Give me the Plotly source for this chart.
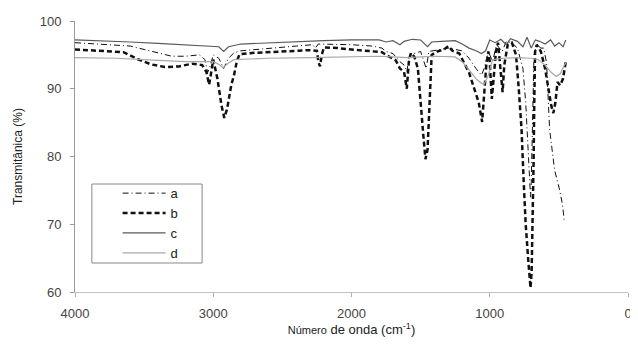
import plotly.graph_objects as go

# ---- data (wavenumber cm-1, transmittance %) ----
a_wn = [4000, 3800, 3600, 3500, 3400, 3300, 3200, 3100, 3060, 3040, 3020, 3000, 2960, 2925, 2890, 2850,
        2800, 2600, 2400, 2280, 2262, 2240, 2200, 2000, 1850, 1780, 1750, 1700, 1650, 1620, 1600, 1580,
        1500, 1460, 1440, 1300, 1200, 1150, 1100, 1060, 1040, 1010, 980, 950, 910, 880, 840, 800,
        760, 740, 720, 705, 700, 690, 680, 660, 630, 610, 589, 567, 531, 495, 475, 460]
a_val = [96.8, 96.6, 96.3, 95.8, 95.3, 94.8, 94.8, 95.0, 94.3, 92.4, 93.5, 95.0, 94.5, 93.0, 94.5, 95.3,
         95.6, 96.0, 96.3, 96.5, 96.0, 96.6, 96.6, 96.5, 96.3, 96.0, 95.5, 95.2, 94.0, 93.5, 92.5, 95.0,
         95.5, 93.0, 95.5, 96.0, 95.6, 94.5, 93.0, 92.0, 93.0, 95.5, 94.0, 96.5, 95.5, 97.0, 96.8, 96.0,
         93.0, 88.0, 80.0, 74.0, 76.0, 85.0, 95.0, 96.5, 96.0, 96.0, 93.8, 84.0, 78.0, 75.1, 73.0, 70.4]

b_wn = [4000, 3800, 3650, 3550, 3450, 3350, 3250, 3150, 3080, 3050, 3030, 3010, 3000, 2970, 2940, 2920,
        2900, 2870, 2850, 2830, 2810, 2700, 2500, 2300, 2250, 2240, 2228, 2215, 2200, 2100, 1950, 1850,
        1780, 1750, 1700, 1680, 1650, 1620, 1600, 1585, 1570, 1545, 1520, 1495, 1480, 1465, 1450, 1435,
        1420, 1380, 1330, 1300, 1270, 1220, 1180, 1150, 1120, 1080, 1055, 1040, 1025, 1010, 1000, 985,
        970, 955, 940, 920, 907, 895, 870, 840, 810, 790, 770, 755, 740, 720, 705, 697,
        690, 683, 678, 672, 660, 630, 600, 575, 555, 540, 525, 510, 490, 470, 450]
b_val = [95.8, 95.6, 95.4, 94.4, 93.6, 93.2, 93.3, 93.7, 93.5, 92.5, 90.6, 93.0, 94.3, 91.5, 87.5, 85.7,
         87.0, 90.5, 92.0, 94.0, 95.1, 95.3, 95.5, 95.7, 95.6, 94.0, 93.3, 95.0, 96.1, 96.0, 95.7, 95.5,
         95.4, 95.0, 94.5, 94.2, 93.0, 92.5, 90.0, 94.0, 95.3, 94.7, 93.0, 86.0, 83.0, 79.6, 81.0, 88.0,
         95.0, 95.5, 95.8, 96.3, 95.6, 95.2, 93.5, 92.4, 90.5, 88.0, 85.1, 89.0, 93.5, 95.5, 94.0, 88.5,
         92.0, 95.5, 96.8, 93.0, 89.5, 93.5, 96.5, 96.8, 95.0, 90.0, 84.0, 76.5, 70.0, 64.3, 60.6, 63.0,
         70.0, 79.0, 88.0, 95.5, 96.5, 95.5, 93.0, 90.0, 87.5, 86.4, 88.0, 91.0, 90.5, 91.5, 94.0]

c_wn = [4000, 3800, 3600, 3400, 3200, 3050, 2960, 2925, 2890, 2800, 2600, 2400, 2200, 2000, 1800, 1750,
        1700, 1650, 1620, 1560, 1500, 1450, 1420, 1350, 1250, 1200, 1150, 1100, 1060, 1030, 1000, 960,
        920, 880, 850, 800, 760, 730, 700, 670, 640, 600, 560, 530, 500, 470, 450]
c_val = [97.2, 97.1, 96.9, 96.7, 96.5, 96.4, 96.2, 95.5, 96.2, 96.6, 96.8, 97.0, 97.1, 97.2, 97.2, 96.9,
         97.1, 96.5, 97.0, 97.3, 97.2, 96.2, 96.9, 97.0, 97.1, 96.6, 96.0, 95.6, 95.2, 95.6, 97.2, 96.8,
         97.3, 96.5, 97.4, 97.0, 96.2, 97.6, 96.0, 97.2, 97.0, 96.6, 97.2, 96.3, 96.8, 96.2, 97.2]

d_wn = [4000, 3700, 3400, 3200, 3000, 2960, 2930, 2890, 2850, 2600, 2300, 2000, 1800, 1700, 1600, 1500,
        1400, 1250, 1200, 1150, 1100, 1060, 1040, 1010, 980, 900, 800, 700, 650, 600, 560, 520,
        490, 460, 450]
d_val = [94.6, 94.5, 94.2, 94.0, 94.0, 93.6, 93.1, 93.8, 94.3, 94.5, 94.6, 94.7, 94.8, 94.7, 94.6, 94.7,
         94.8, 94.7, 94.0, 92.8, 91.5, 90.8, 90.7, 92.0, 94.3, 94.5, 94.6, 94.5, 94.3, 93.5, 92.5, 91.8,
         92.2, 93.5, 93.8]

series_names = ["a", "b", "c", "d"]
x_ticks = [4000, 3000, 2000, 1000, 0]
y_ticks = [60, 70, 80, 90, 100]

FONT = "Liberation Sans, Arial, sans-serif"

fig = go.Figure()
fig.add_trace(go.Scatter(x=a_wn, y=a_val, name=series_names[0], mode="lines",
                         line=dict(color="#111111", width=1, dash="6px,3px,1px,3px")))
fig.add_trace(go.Scatter(x=b_wn, y=b_val, name=series_names[1], mode="lines",
                         line=dict(color="#111111", width=2.5, dash="5px,3px")))
fig.add_trace(go.Scatter(x=c_wn, y=c_val, name=series_names[2], mode="lines",
                         line=dict(color="#5a5a5a", width=1.2)))
fig.add_trace(go.Scatter(x=d_wn, y=d_val, name=series_names[3], mode="lines",
                         line=dict(color="#a8a8a8", width=1.2)))

# legend frame (decorative)
fig.add_shape(type="rect", xref="paper", yref="paper",
              x0=0.0305, x1=0.2298, y0=0.107, y1=0.3985,
              line=dict(color="#888888", width=1), fillcolor="white", layer="below")

# the page body adds an 8px offset, so the figure is 8px smaller with adjusted margins
fig.update_layout(
    width=630, height=337,
    margin=dict(l=67, r=6, t=13, b=53),
    paper_bgcolor="white", plot_bgcolor="white",
    font=dict(family=FONT, size=13, color="#333333"),
    showlegend=True,
    legend=dict(x=0.077, y=0.42, xanchor="left", yanchor="top",
                bgcolor="rgba(0,0,0,0)", borderwidth=0,
                font=dict(family=FONT, size=13, color="#222222"),
                itemwidth=43, tracegroupgap=0),
    xaxis=dict(range=[4000, 0], tickvals=x_ticks, ticktext=[str(v) for v in x_ticks],
               showgrid=False, zeroline=False, showline=True, linecolor="#c4c4c4", linewidth=1,
               ticks="outside", ticklen=4, tickcolor="#b0b0b0", ticklabelstandoff=5,
               tickfont=dict(family=FONT, size=13, color="#444444"),
               title=dict(text="<span style='font-size:11px'>Número</span> de onda (cm<sup>-1</sup>)",
                          font=dict(family=FONT, size=13, color="#222222"), standoff=0)),
    yaxis=dict(range=[60, 100], tickvals=y_ticks, ticktext=[str(v) for v in y_ticks],
               showgrid=False, zeroline=False, showline=True, linecolor="#999999", linewidth=1,
               ticks="outside", ticklen=4, tickcolor="#999999", ticklabelstandoff=6,
               tickfont=dict(family=FONT, size=13, color="#444444"),
               title=dict(text="Transmitânica (%)", font=dict(family=FONT, size=12, color="#222222"),
                          standoff=14)),
)

fig.write_html("out.html")
